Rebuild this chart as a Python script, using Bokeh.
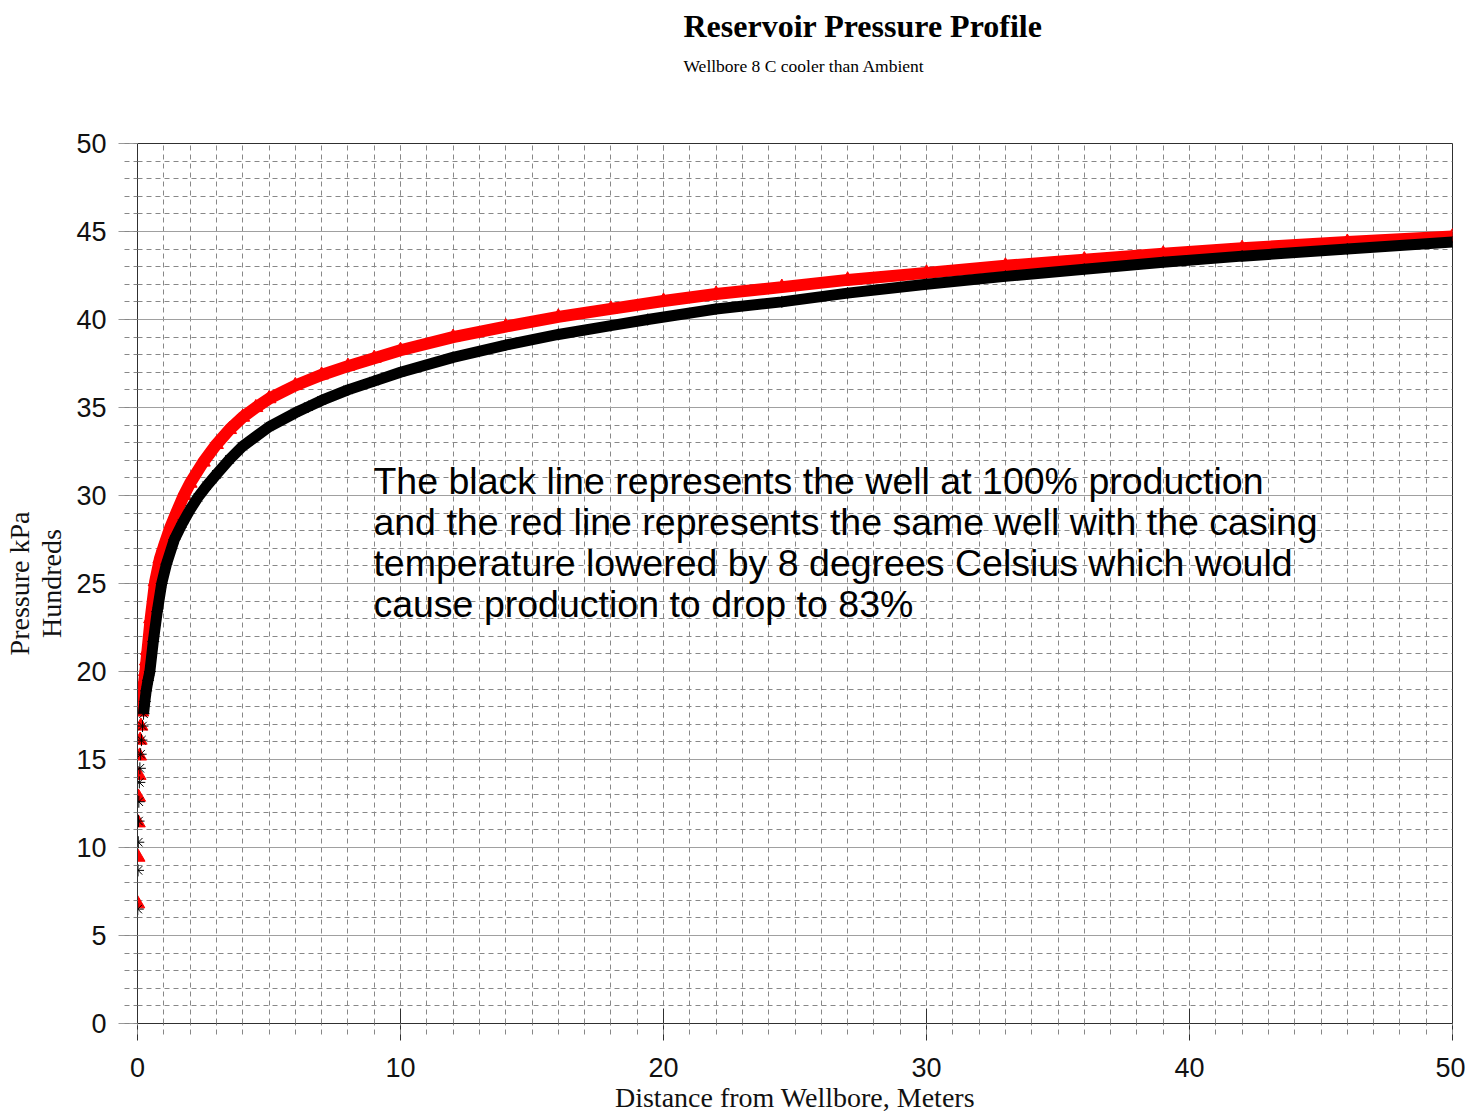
from bokeh.plotting import figure
from bokeh.models import Range1d, SingleIntervalTicker, Label, Title
from bokeh.embed import file_html
from bokeh.resources import INLINE

# ---- data ----
red_x = [0.01, 0.02, 0.03, 0.04, 0.06, 0.08, 0.10, 0.13, 0.16, 0.19, 0.22, 0.26, 0.30, 0.34, 0.38,
         0.5, 0.67, 0.85, 1.0, 1.25, 1.5, 1.76, 2.0, 2.5, 3.0, 3.5, 4.0, 4.5, 5, 6, 7, 8, 9, 10,
         12, 14, 16, 18, 20, 22, 24.5, 27, 30, 33, 36, 39, 42, 46, 50]
red_y = [6.8, 9.45, 11.4, 12.86, 14.1, 15.2, 16.1, 16.9, 17.7, 18.35, 18.9, 19.5, 20.0, 20.6, 21.2,
         23.0, 25.1, 26.4, 27.1, 28.2, 29.1, 30.0, 30.7, 31.9, 32.9, 33.75, 34.45, 35.0, 35.5, 36.25, 36.85, 37.35, 37.8, 38.25,
         39.0, 39.6, 40.15, 40.6, 41.05, 41.45, 41.84, 42.25, 42.65, 43.05, 43.4, 43.73, 44.05, 44.4, 44.72]

black_x = [0.01, 0.02, 0.03, 0.04, 0.05, 0.07, 0.09, 0.12, 0.15, 0.19, 0.23, 0.28, 0.33, 0.40, 0.47,
           0.6, 0.75, 0.92, 1.1, 1.4, 1.7, 2.0, 2.3, 2.63, 3.0, 3.5, 4.0, 5, 6, 6.5, 7, 8, 9, 10,
           12, 14, 16, 18, 19.4, 22, 24.5, 27, 30, 33, 36, 39, 42, 46, 50]
black_y = [6.5, 8.7, 10.3, 11.5, 12.6, 13.7, 14.5, 15.3, 16.1, 16.9, 17.6, 18.3, 18.9, 19.5, 20.0,
           21.7, 23.4, 25.0, 26.1, 27.5, 28.4, 29.2, 29.9, 30.55, 31.2, 32.05, 32.8, 33.9, 34.7, 35.05, 35.4, 36.0, 36.5, 37.0,
           37.85, 38.55, 39.15, 39.65, 40.0, 40.6, 41.0, 41.5, 42.0, 42.45, 42.85, 43.25, 43.6, 44.0, 44.4]

red_line_start = 8      # markers are separate below this point
black_line_start = 10

title_text = "Reservoir Pressure Profile"
subtitle_text = "Wellbore 8 C cooler than Ambient"
note_lines = [
    "The black line represents the well at 100% production",
    "and the red line represents the same well with the casing",
    "temperature lowered by 8 degrees Celsius which would",
    "cause production to drop to 83%",
]
note_x = 8.97
note_y = [30.8, 28.47, 26.14, 23.81]
x_label = "Distance from Wellbore, Meters"
y_label = "Pressure kPa\nHundreds"

SERIF = "Liberation Serif"
SANS = "Liberation Sans"

p = figure(frame_width=1315, frame_height=880,
           x_range=Range1d(0, 50), y_range=Range1d(0, 50),
           output_backend="svg", toolbar_location=None, title=None,
           min_border_left=135, min_border_top=143, min_border_right=13, min_border_bottom=86,
           background_fill_color="white", border_fill_color="white")

p.outline_line_color = "#303030"
p.outline_line_width = 1

# axes
p.xaxis.ticker = SingleIntervalTicker(interval=10, num_minor_ticks=10)
p.yaxis.ticker = SingleIntervalTicker(interval=5, num_minor_ticks=5)

for ax in (p.xaxis[0], p.yaxis[0]):
    ax.axis_line_color = "#303030"
    ax.major_label_text_font = SANS
    ax.major_label_text_font_size = "27px"
    ax.major_label_text_color = "#111111"
    ax.axis_label_text_font = SERIF
    ax.axis_label_text_font_size = "28px"
    ax.axis_label_text_font_style = "normal"
    ax.axis_label_text_color = "#111111"
    ax.minor_tick_line_color = "#888888"
    ax.minor_tick_line_dash = "5 4"
    ax.minor_tick_in = 0

p.xaxis.axis_label = x_label
p.xaxis.major_tick_line_color = "#303030"
p.xaxis.major_tick_in = 15
p.xaxis.major_tick_out = 17
p.xaxis.minor_tick_out = 11
p.xaxis.major_label_standoff = 17
p.xaxis.axis_label_standoff = 2

p.yaxis.axis_label = y_label
p.yaxis.axis_label_text_line_height = 1.05
p.yaxis.major_tick_line_color = "#999999"
p.yaxis.major_tick_in = 0
p.yaxis.major_tick_out = 19
p.yaxis.minor_tick_out = 13
p.yaxis.major_label_standoff = 12
p.yaxis.axis_label_standoff = 6

# grids
p.xgrid.grid_line_color = "#888888"
p.xgrid.grid_line_dash = "5 4"
p.xgrid.minor_grid_line_color = "#888888"
p.xgrid.minor_grid_line_dash = "5 4"
p.ygrid.grid_line_color = "#a0a0a0"
p.ygrid.grid_line_width = 1
p.ygrid.minor_grid_line_color = "#888888"
p.ygrid.minor_grid_line_dash = "5 4"

# series
p.line(red_x[red_line_start:], red_y[red_line_start:], line_color="#ff0000", line_width=12)
p.scatter(red_x, red_y, marker="triangle", size=14, fill_color="#ff0000", line_color="#ff0000")
p.line(black_x[black_line_start:], black_y[black_line_start:], line_color="#000000", line_width=11)
p.scatter(black_x, black_y, marker="asterisk", size=12, line_color="#000000", line_width=1)

# titles: a blank spacer nearest the plot, then subtitle, then the main title
p.add_layout(Title(text=" ", text_font_size="1px", standoff=60), "above")
p.add_layout(Title(text=subtitle_text, text_font=SERIF, text_font_size="17.5px", text_font_style="normal",
                   text_color="#000000", align="left", offset=546, standoff=10), "above")
p.add_layout(Title(text=title_text, text_font=SERIF, text_font_size="32px", text_font_style="bold",
                   text_color="#000000", align="left", offset=546, standoff=9), "above")

# note
for t, yy in zip(note_lines, note_y):
    p.add_layout(Label(x=note_x, y=yy, text=t, text_font=SANS, text_font_size="37.5px",
                       text_color="#000000", text_baseline="alphabetic"))

open("out.html", "w").write(file_html(p, INLINE))
